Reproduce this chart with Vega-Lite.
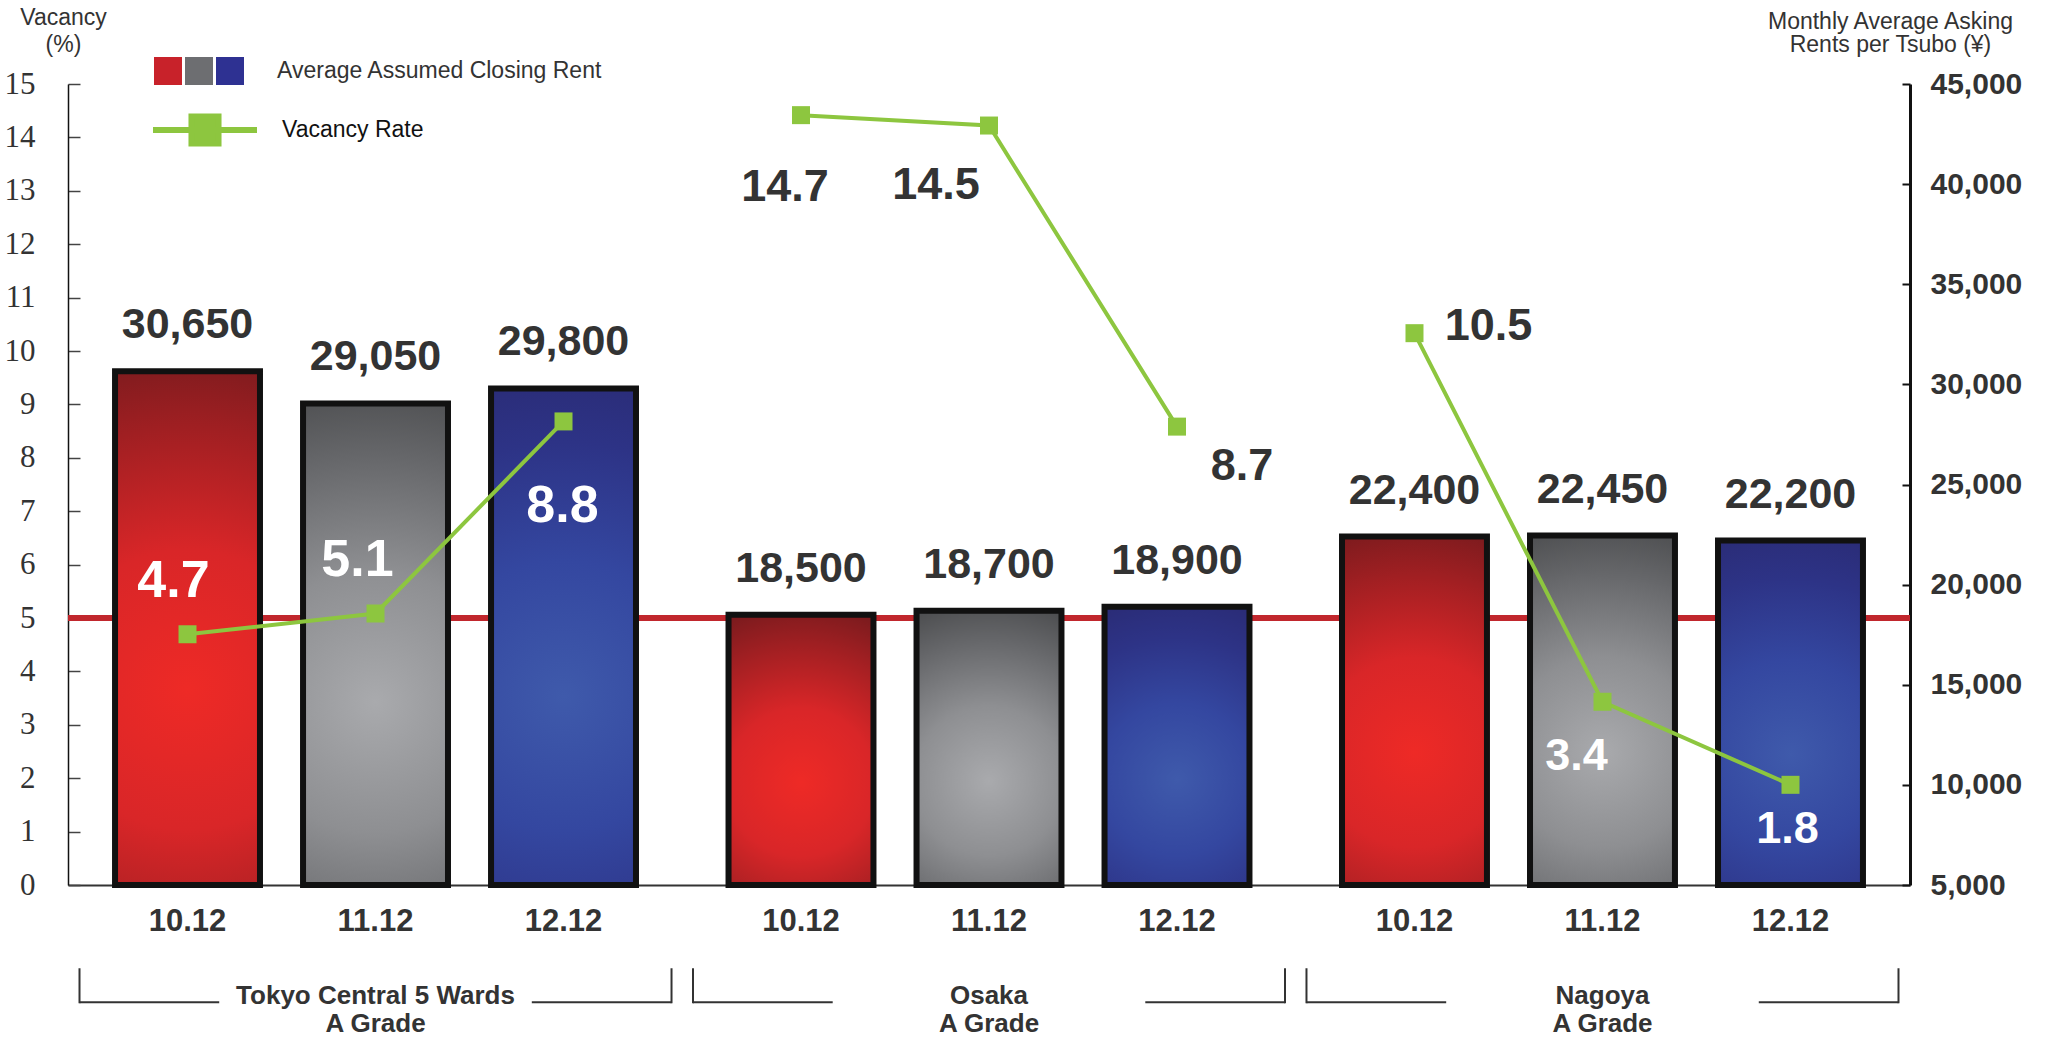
{
"$schema":"https://vega.github.io/schema/vega-lite/v6.json",
"width":1842,"height":801,
"autosize":{"type":"none"},
"padding":{"left":68,"top":84,"right":135,"bottom":155},
"background":"#ffffff",
"config":{"view":{"stroke":null},"font":"Liberation Sans","axis":{"grid":false}},
"datasets":{
 "bars":[
  {"group":"Tokyo","period":"10.12","rent":30650,"vacancy":4.7},
  {"group":"Tokyo","period":"11.12","rent":29050,"vacancy":5.1},
  {"group":"Tokyo","period":"12.12","rent":29800,"vacancy":8.8},
  {"group":"Osaka","period":"10.12","rent":18500,"vacancy":14.7},
  {"group":"Osaka","period":"11.12","rent":18700,"vacancy":14.5},
  {"group":"Osaka","period":"12.12","rent":18900,"vacancy":8.7},
  {"group":"Nagoya","period":"10.12","rent":22400,"vacancy":10.5},
  {"group":"Nagoya","period":"11.12","rent":22450,"vacancy":3.4},
  {"group":"Nagoya","period":"12.12","rent":22200,"vacancy":1.8}
 ],
 "groups":[
  {"group":"Tokyo","label":"Tokyo Central 5 Wards\nA Grade"},
  {"group":"Osaka","label":"Osaka\nA Grade"},
  {"group":"Nagoya","label":"Nagoya\nA Grade"}
 ]
},
"layer":[
 {"data":{"name":"bars"},
  "mark":{"type":"rule","color":"#c1272d","strokeWidth":6},
  "encoding":{"y":{"datum":5,"type":"quantitative","scale":{"domain":[0,15],"nice":false},
   "axis":{"orient":"left","values":[0,1,2,3,4,5,6,7,8,9,10,11,12,13,14,15],"title":["Vacancy","(%)"],"titleAngle":0,"titleAlign":"center","titleBaseline":"middle","titleX":-5,"titleY":-67,"titleLineHeight":27,"titleFontSize":23,"titleFontWeight":"normal","titleColor":"#333","labelFont":"Liberation Sans Narrow","labelFontSize":31,"labelColor":"#333","labelPadding":45,"tickSize":-12,"tickColor":"#444","tickWidth":1.5,"domainColor":"#111","domainWidth":1.5}}}},
 {"data":{"name":"bars"},
  "encoding":{
   "x":{"field":"group","type":"nominal","scale":{"domain":["Tokyo","Osaka","Nagoya"],"paddingInner":0.035,"paddingOuter":0.01875},"axis":{"labels":false,"ticks":false,"title":null,"domainColor":"#333","domainWidth":2}},
   "xOffset":{"field":"period","type":"nominal","scale":{"domain":["10.12","11.12","12.12"],"paddingInner":0.229,"paddingOuter":0.189}},
   "y":{"field":"rent","type":"quantitative","scale":{"domain":[5000,45000],"nice":false,"zero":false},
        "axis":{"orient":"right","values":[5000,10000,15000,20000,25000,30000,35000,40000,45000],"format":",d","title":["Monthly Average Asking","Rents per Tsubo (¥)"],"titleAngle":0,"titleAlign":"center","titleBaseline":"middle","titleX":-20,"titleY":-63,"titleLineHeight":23,"titleFontSize":23,"titleFontWeight":"normal","titleColor":"#333","labelFontSize":30,"labelFontWeight":"bold","labelColor":"#333","labelPadding":28,"tickSize":-8,"tickColor":"#111","tickWidth":2,"domainColor":"#111","domainWidth":3}}
  },
  "layer":[
   {"mark":{"type":"bar"},
    "encoding":{"y2":{"datum":5000},
     "fill":{"field":"period","type":"nominal",
      "scale":{"domain":["10.12","11.12","12.12"],"range":["#c8222a","#6d6e71","#2e3192"]},
      "legend":{"orient":"none","legendX":86,"legendY":-27,"direction":"horizontal","title":"Average Assumed Closing Rent","titleOrient":"right","titlePadding":33,"titleFontSize":23,"titleFontWeight":"normal","titleColor":"#333","titleFont":"Liberation Sans","titleLimit":600,"labelExpr":"''","labelOffset":0,"columnPadding":3,"symbolType":"square","symbolSize":784,"symbolStrokeWidth":0}}}},
   {"transform":[{"filter":{"field":"period","equal":"10.12"}}],
    "mark":{"type":"bar","stroke":"#111","strokeWidth":6,
     "fill":{"gradient":"radial","x1":0.5,"y1":0.62,"r1":0,"x2":0.5,"y2":0.62,"r2":0.68,"stops":[{"offset":0,"color":"#ee2a26"},{"offset":0.4,"color":"#d92628"},{"offset":0.75,"color":"#a01f22"},{"offset":1,"color":"#761a1d"}]}},
    "encoding":{"y2":{"datum":5000}}},
   {"transform":[{"filter":{"field":"period","equal":"11.12"}}],
    "mark":{"type":"bar","stroke":"#111","strokeWidth":6,
     "fill":{"gradient":"radial","x1":0.5,"y1":0.62,"r1":0,"x2":0.5,"y2":0.62,"r2":0.68,"stops":[{"offset":0,"color":"#a9aaad"},{"offset":0.4,"color":"#8e8f92"},{"offset":0.75,"color":"#66676a"},{"offset":1,"color":"#4a4b4d"}]}},
    "encoding":{"y2":{"datum":5000}}},
   {"transform":[{"filter":{"field":"period","equal":"12.12"}}],
    "mark":{"type":"bar","stroke":"#111","strokeWidth":6,
     "fill":{"gradient":"radial","x1":0.5,"y1":0.62,"r1":0,"x2":0.5,"y2":0.62,"r2":0.68,"stops":[{"offset":0,"color":"#3f5aab"},{"offset":0.4,"color":"#3447a0"},{"offset":0.75,"color":"#2d3386"},{"offset":1,"color":"#2a2b75"}]}},
    "encoding":{"y2":{"datum":5000}}},
   {"mark":{"type":"text","fontSize":43,"fontWeight":"bold","color":"#333","baseline":"alphabetic","dy":-33},
    "encoding":{"text":{"field":"rent","type":"quantitative","format":",d"}}}
  ]},
 {"layer":[
  {"data":{"name":"bars"},
   "encoding":{
    "x":{"field":"group","type":"nominal","scale":{"domain":["Tokyo","Osaka","Nagoya"],"paddingInner":0.035,"paddingOuter":0.01875},"axis":{"labels":false,"ticks":false,"title":null,"domainColor":"#333","domainWidth":2}},
    "xOffset":{"field":"period","type":"nominal","scale":{"domain":["10.12","11.12","12.12"],"paddingInner":0.229,"paddingOuter":0.189}},
    "y":{"field":"vacancy","type":"quantitative","scale":{"domain":[-0.13,15.3],"nice":false,"zero":false},"axis":null}
   },
   "layer":[
    {"mark":{"type":"line","strokeWidth":4},
     "encoding":{"detail":{"field":"group"},
      "stroke":{"datum":"Vacancy Rate","type":"nominal","scale":{"range":["#8dc63f"]},
       "legend":{"orient":"none","legendX":82,"legendY":-9,"title":null,"symbolType":"M-1,0H1M-0.26,-0.26H0.26V0.26H-0.26Z","symbolSize":10816,"symbolStrokeWidth":6,"symbolFillColor":"#8dc63f","labelFontSize":23,"labelColor":"#111","labelFont":"Liberation Sans","labelOffset":22,"encode":{"symbols":{"update":{"fill":{"value":"#8dc63f"}}}}}}}},
    {"mark":{"type":"point","shape":"square","filled":true,"color":"#8dc63f","size":324,"opacity":1}},
    {"transform":[{"filter":{"and":[{"field":"group","equal":"Tokyo"},{"field":"period","equal":"10.12"}]}}],
     "mark":{"type":"text","fontSize":52,"fontWeight":"bold","color":"#ffffff","baseline":"middle","dx":-14,"dy":-53},
     "encoding":{"text":{"field":"vacancy","type":"quantitative","format":".1f"}}},
    {"transform":[{"filter":{"and":[{"field":"group","equal":"Tokyo"},{"field":"period","equal":"11.12"}]}}],
     "mark":{"type":"text","fontSize":52,"fontWeight":"bold","color":"#ffffff","baseline":"middle","dx":-18,"dy":-54},
     "encoding":{"text":{"field":"vacancy","type":"quantitative","format":".1f"}}},
    {"transform":[{"filter":{"and":[{"field":"group","equal":"Tokyo"},{"field":"period","equal":"12.12"}]}}],
     "mark":{"type":"text","fontSize":52,"fontWeight":"bold","color":"#ffffff","baseline":"middle","dx":-1,"dy":85},
     "encoding":{"text":{"field":"vacancy","type":"quantitative","format":".1f"}}},
    {"transform":[{"filter":{"and":[{"field":"group","equal":"Osaka"},{"field":"period","equal":"10.12"}]}}],
     "mark":{"type":"text","fontSize":45,"fontWeight":"bold","color":"#333","baseline":"middle","dx":-16,"dy":72},
     "encoding":{"text":{"field":"vacancy","type":"quantitative","format":".1f"}}},
    {"transform":[{"filter":{"and":[{"field":"group","equal":"Osaka"},{"field":"period","equal":"11.12"}]}}],
     "mark":{"type":"text","fontSize":45,"fontWeight":"bold","color":"#333","baseline":"middle","dx":-53,"dy":59},
     "encoding":{"text":{"field":"vacancy","type":"quantitative","format":".1f"}}},
    {"transform":[{"filter":{"and":[{"field":"group","equal":"Osaka"},{"field":"period","equal":"12.12"}]}}],
     "mark":{"type":"text","fontSize":45,"fontWeight":"bold","color":"#333","baseline":"middle","dx":65,"dy":39},
     "encoding":{"text":{"field":"vacancy","type":"quantitative","format":".1f"}}},
    {"transform":[{"filter":{"and":[{"field":"group","equal":"Nagoya"},{"field":"period","equal":"10.12"}]}}],
     "mark":{"type":"text","fontSize":45,"fontWeight":"bold","color":"#333","baseline":"middle","dx":74,"dy":-7},
     "encoding":{"text":{"field":"vacancy","type":"quantitative","format":".1f"}}},
    {"transform":[{"filter":{"and":[{"field":"group","equal":"Nagoya"},{"field":"period","equal":"11.12"}]}}],
     "mark":{"type":"text","fontSize":45,"fontWeight":"bold","color":"#ffffff","baseline":"middle","dx":-26,"dy":54},
     "encoding":{"text":{"field":"vacancy","type":"quantitative","format":".1f"}}},
    {"transform":[{"filter":{"and":[{"field":"group","equal":"Nagoya"},{"field":"period","equal":"12.12"}]}}],
     "mark":{"type":"text","fontSize":45,"fontWeight":"bold","color":"#ffffff","baseline":"middle","dx":-3,"dy":44},
     "encoding":{"text":{"field":"vacancy","type":"quantitative","format":".1f"}}},
    {"mark":{"type":"text","fontSize":31,"fontWeight":"bold","color":"#333","baseline":"middle","dy":44},
     "encoding":{"y":{"datum":0,"type":"quantitative"},"text":{"field":"period"}}}
   ]},
  {"data":{"name":"groups"},
   "layer":[
    {"mark":{"type":"rule","color":"#333","strokeWidth":2,"yOffset":90,"y2Offset":125},
     "encoding":{"x":{"field":"group","type":"nominal","bandPosition":0,"scale":{"domain":["Tokyo","Osaka","Nagoya"],"paddingInner":0.035,"paddingOuter":0.01875},"axis":{"labels":false,"ticks":false,"title":null,"domainColor":"#333","domainWidth":2}},
      "y":{"datum":0,"type":"quantitative"},"y2":{"datum":0}}},
    {"mark":{"type":"rule","color":"#333","strokeWidth":2,"yOffset":90,"y2Offset":125},
     "encoding":{"x":{"field":"group","type":"nominal","bandPosition":1,"scale":{"domain":["Tokyo","Osaka","Nagoya"],"paddingInner":0.035,"paddingOuter":0.01875},"axis":{"labels":false,"ticks":false,"title":null,"domainColor":"#333","domainWidth":2}},
      "y":{"datum":0,"type":"quantitative"},"y2":{"datum":0}}},
    {"mark":{"type":"rule","color":"#333","strokeWidth":2,"yOffset":124},
     "encoding":{"x":{"field":"group","type":"nominal","bandPosition":0,"scale":{"domain":["Tokyo","Osaka","Nagoya"],"paddingInner":0.035,"paddingOuter":0.01875},"axis":{"labels":false,"ticks":false,"title":null,"domainColor":"#333","domainWidth":2}},
      "x2":{"field":"group","bandPosition":0.236},
      "y":{"datum":0,"type":"quantitative"}}},
    {"mark":{"type":"rule","color":"#333","strokeWidth":2,"yOffset":124},
     "encoding":{"x":{"field":"group","type":"nominal","bandPosition":0.764,"scale":{"domain":["Tokyo","Osaka","Nagoya"],"paddingInner":0.035,"paddingOuter":0.01875},"axis":{"labels":false,"ticks":false,"title":null,"domainColor":"#333","domainWidth":2}},
      "x2":{"field":"group","bandPosition":1},
      "y":{"datum":0,"type":"quantitative"}}},
    {"mark":{"type":"text","fontSize":26,"fontWeight":"bold","color":"#333","baseline":"middle","lineBreak":"\n","lineHeight":28,"dy":118},
     "encoding":{"x":{"field":"group","type":"nominal","scale":{"domain":["Tokyo","Osaka","Nagoya"],"paddingInner":0.035,"paddingOuter":0.01875},"axis":{"labels":false,"ticks":false,"title":null,"domainColor":"#333","domainWidth":2}},
      "y":{"datum":0,"type":"quantitative"},"text":{"field":"label"}}}
   ]}
 ]}
],
"resolve":{"scale":{"y":"independent"}}
}
